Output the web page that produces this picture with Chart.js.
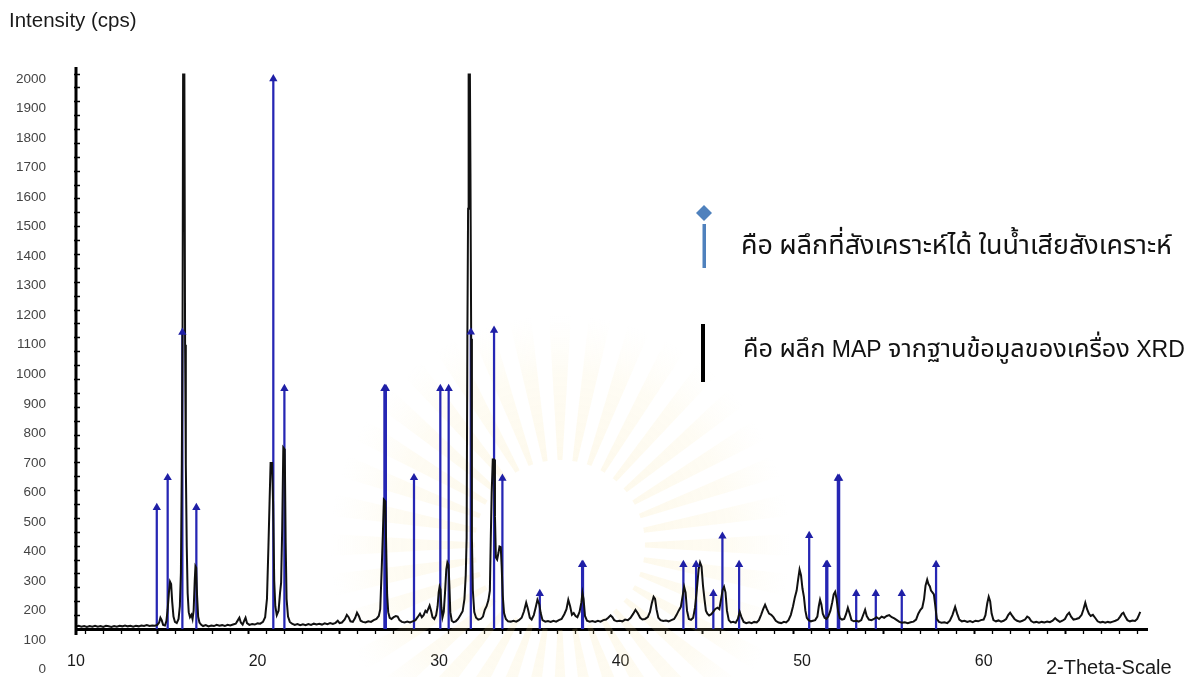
<!DOCTYPE html>
<html lang="th">
<head>
<meta charset="utf-8">
<title>XRD pattern</title>
<script src="https://cdn.jsdelivr.net/npm/chart.js@4.4.1/dist/chart.umd.min.js"></script>
<style>
  html, body { margin: 0; padding: 0; background: #ffffff; }
  #wrap { width: 1188px; height: 677px; position: relative; }
</style>
</head>
<body>
<div id="wrap"><canvas id="xrd" width="1188" height="677"></canvas></div>
<script>
// ---- data -------------------------------------------------------------
// Measured scan: [2-theta (deg), intensity (cps)]
const scan = [
  [10.0,146],[10.15,149],[10.3,146],[10.45,148],[10.6,145],[10.75,148],[10.9,146],[11.05,149],[11.2,146],[11.35,148],
  [11.5,145],[11.65,149],[11.8,147],[11.95,145],[12.1,148],[12.25,146],[12.4,149],[12.55,147],[12.7,150],[12.85,147],
  [13.0,149],[13.15,146],[13.3,149],[13.45,147],[13.6,150],[13.75,148],[13.9,151],[14.05,148],[14.2,150],[14.35,149],
  [14.48,152],[14.58,160],[14.65,176],[14.72,168],[14.8,152],[14.9,150],[14.98,165],[15.05,205],[15.12,262],[15.18,298],
  [15.24,290],[15.3,230],[15.37,180],[15.45,162],[15.55,158],[15.65,172],[15.72,215],[15.78,330],[15.83,700],[15.87,1150],
  [15.9,2015],[15.97,2015],[16.01,1100],[16.05,694],[16.1,420],[16.15,260],[16.21,195],[16.28,178],[16.36,186],[16.42,172],
  [16.48,200],[16.54,300],[16.58,350],[16.62,345],[16.67,250],[16.73,180],[16.8,160],[16.9,152],
  [17.0,148],[17.15,151],[17.3,147],[17.45,150],[17.6,148],[17.75,152],[17.9,149],[18.05,151],[18.2,148],[18.35,152],
  [18.5,150],[18.65,153],[18.8,156],[18.92,168],[19.0,176],[19.08,160],[19.18,153],[19.28,168],[19.34,176],[19.42,158],
  [19.55,152],[19.7,155],[19.85,153],[20.0,157],[20.15,156],[20.3,162],[20.42,178],[20.52,240],[20.6,415],[20.66,560],
  [20.72,700],[20.8,700],[20.86,560],[20.92,300],[20.98,215],[21.06,185],[21.16,200],[21.24,260],[21.3,295],[21.36,480],
  [21.42,752],[21.5,745],[21.55,430],[21.6,240],[21.68,180],[21.78,162],[21.9,156],
  [22.05,152],[22.2,155],[22.35,151],[22.5,154],[22.65,151],[22.8,155],[22.95,152],[23.1,156],[23.25,153],[23.4,156],
  [23.55,153],[23.7,157],[23.85,154],[24.0,158],[24.15,155],[24.3,159],[24.42,166],[24.52,158],[24.65,160],[24.8,170],
  [24.92,186],[25.02,178],[25.12,164],[25.25,162],[25.38,176],[25.48,193],[25.58,182],[25.68,166],[25.8,162],[25.95,160],
  [26.1,164],[26.25,162],[26.4,168],[26.55,172],
  [26.68,182],[26.76,205],[26.84,340],[26.9,450],[26.96,576],[27.04,570],[27.09,410],[27.14,255],[27.2,195],[27.28,176],
  [27.38,172],[27.5,178],[27.62,182],[27.72,180],[27.82,168],[27.95,162],[28.1,160],[28.25,163],[28.4,160],[28.55,164],
  [28.7,168],[28.82,178],[28.95,190],[29.05,178],[29.15,185],[29.25,200],[29.33,195],[29.4,205],[29.48,217],[29.56,200],
  [29.64,178],[29.74,172],[29.84,185],
  [29.92,215],[29.98,262],[30.03,281],[30.08,272],[30.13,210],[30.19,178],[30.26,196],[30.33,262],[30.4,340],[30.46,363],
  [30.52,355],[30.57,285],[30.62,195],[30.7,166],[30.8,161],[30.92,164],[31.05,172],[31.18,185],[31.3,198],[31.4,240],
  [31.47,320],[31.52,447],[31.56,1120],[31.6,1560],[31.63,2015],[31.7,2015],[31.73,1680],[31.77,1120],[31.81,447],[31.86,270],
  [31.94,195],[32.04,176],[32.16,170],[32.3,172],[32.42,180],[32.52,203],[32.62,215],[32.72,236],[32.8,268],[32.85,447],
  [32.9,600],[32.96,712],[33.03,712],[33.08,520],[33.13,380],[33.2,373],[33.27,395],[33.33,417],[33.4,415],[33.45,350],
  [33.51,250],[33.58,192],[33.68,172],[33.8,164],[33.95,163],
  [34.1,166],[34.25,163],[34.4,168],[34.55,176],[34.68,198],[34.8,227],[34.9,205],[35.0,176],[35.1,170],[35.22,185],
  [35.32,210],[35.42,237],[35.52,222],[35.6,192],[35.7,168],[35.85,163],[36.0,165],[36.15,162],[36.3,166],[36.45,163],
  [36.6,168],[36.75,172],[36.9,188],[37.02,205],[37.12,237],[37.22,215],[37.32,186],[37.42,192],[37.52,182],[37.62,178],
  [37.74,196],[37.84,228],[37.9,260],[37.96,240],[38.04,182],[38.15,166],[38.3,163],[38.45,165],
  [38.6,162],[38.75,166],[38.9,163],[39.05,168],[39.2,170],[39.32,176],[39.45,184],[39.55,178],[39.65,168],[39.8,164],
  [39.95,166],[40.1,164],[40.25,170],[40.4,168],[40.55,176],[40.7,190],[40.82,203],[40.94,192],[41.08,176],[41.2,170],
  [41.35,172],[41.5,178],[41.62,196],[41.72,225],[41.82,247],[41.9,240],[41.98,205],[42.08,176],[42.2,168],[42.35,165],
  [42.5,167],[42.65,164],[42.8,168],[42.95,172],[43.08,185],[43.2,200],[43.32,213],[43.42,250],[43.5,281],[43.58,262],
  [43.66,200],[43.76,172],[43.88,169],[44.0,176],[44.1,210],[44.2,270],[44.3,340],[44.38,363],[44.46,350],[44.54,285],
  [44.62,240],[44.7,200],
  [44.78,190],[44.88,184],[45.0,188],[45.1,196],[45.22,206],[45.34,210],[45.44,205],[45.54,240],[45.62,270],[45.7,281],
  [45.78,262],[45.86,200],[45.96,168],[46.08,160],[46.2,162],[46.34,159],[46.46,172],[46.56,196],[46.66,178],[46.78,162],
  [46.92,158],[47.08,161],[47.22,158],[47.36,162],[47.5,160],[47.62,168],[47.74,186],[47.86,206],[47.96,220],[48.06,205],
  [48.18,190],[48.3,186],[48.42,178],[48.55,166],[48.7,160],[48.85,158],[49.0,162],[49.12,160],[49.25,168],[49.38,186],
  [49.5,215],[49.6,245],[49.7,268],[49.78,305],[49.86,339],[49.94,320],[50.02,275],[50.1,247],[50.18,200],[50.26,176],
  [50.36,168],[50.48,164],
  [50.6,166],[50.72,168],[50.84,180],[50.92,215],[50.99,237],[51.06,222],[51.14,190],[51.24,176],[51.34,172],[51.44,180],
  [51.56,200],[51.66,228],[51.74,255],[51.82,264],[51.9,240],[51.98,200],[52.08,175],[52.2,170],[52.32,172],[52.42,188],
  [52.52,210],[52.62,190],[52.72,168],[52.85,164],[53.0,166],[53.12,163],[53.26,168],[53.38,188],[53.47,203],[53.56,182],
  [53.68,170],[53.82,168],[53.96,172],[54.1,178],[54.24,172],[54.38,180],[54.52,176],[54.66,182],[54.8,185],[54.94,178],
  [55.08,174],[55.22,168],[55.36,162],[55.5,159],[55.66,161],[55.82,158],[55.98,161],[56.14,163],[56.28,170],[56.4,190],
  [56.52,203],[56.62,210],[56.72,240],[56.8,285],[56.89,305],[56.96,290],[57.04,282],[57.1,268],[57.18,262],[57.26,255],
  [57.34,215],[57.42,172],[57.54,162],[57.68,159],[57.84,161],[58.0,158],
  [58.14,166],[58.28,185],[58.43,213],[58.54,190],[58.66,170],[58.8,164],[58.95,166],[59.1,162],[59.25,165],[59.4,161],
  [59.55,166],[59.7,164],[59.85,168],[60.0,170],[60.1,185],[60.2,225],[60.28,247],[60.36,232],[60.44,190],[60.54,168],
  [60.68,164],[60.82,167],[60.96,163],[61.1,166],[61.24,172],[61.36,186],[61.46,193],[61.56,184],[61.7,172],[61.84,166],
  [62.0,163],[62.14,166],[62.28,170],[62.4,180],[62.5,176],[62.62,165],[62.76,160],[62.9,162],[63.05,159],[63.2,162],
  [63.35,160],[63.5,163],[63.65,161],[63.8,166],[63.94,175],[64.06,168],[64.2,162],[64.34,166],[64.48,172],[64.6,186],
  [64.71,193],[64.82,180],[64.95,170],[65.1,172],[65.25,175],[65.4,186],[65.5,205],[65.6,227],[65.7,205],[65.8,190],
  [65.9,182],[66.02,186],[66.14,176],[66.28,164],[66.42,160],[66.56,162],[66.7,159],[66.84,162],[66.98,160],[67.12,163],
  [67.26,166],[67.4,170],[67.52,180],[67.62,190],[67.7,193],[67.8,180],[67.92,168],[68.06,164],[68.2,167],[68.34,165],
  [68.46,172],[68.56,186],[68.63,196]
];

// Reflections found for the synthesized crystals (stick positions and heights)
const peakAngles = [14.45, 15.05, 15.86, 16.63, 20.87, 21.48, 26.99, 27.07, 28.62, 30.07,
                    30.53, 31.75, 33.03, 33.49, 35.55, 37.88, 37.93, 43.46, 44.16, 45.11,
                    45.61, 46.53, 50.39, 51.33, 51.39, 51.97, 52.04, 52.98, 54.06, 55.49, 57.38];
const peakCounts = [549, 650, 1142, 549, 2000, 952, 952, 952, 650, 952,
                    952, 1143, 1149, 648, 258, 356, 356, 356, 356, 258,
                    452, 356, 454, 356, 356, 648, 648, 258, 258, 258, 356];

// Axis settings
const yTickLabels = [0,100,200,300,400,500,600,700,800,900,1000,1100,1200,1300,1400,1500,1600,1700,1800,1900,2000];
const xLabelEvery = 10;
const axisBase = 138;          // intensity at which the 2-theta axis sits
const yMax = 2040;
const xMin = 10, xMax = 69;

const legendItems = [
  'คือ ผลึกที่สังเคราะห์ได้ ในน้ำเสียสังเคราะห์',
  'คือ ผลึก MAP จากฐานข้อมูลของเครื่อง XRD'
];
const yTitle = 'Intensity (cps)';
const xTitle = '2-Theta-Scale';

// ---- drawing ------------------------------------------------------------
const latin = '"Liberation Sans", Arial, Helvetica, sans-serif';
const thai = '"Noto Sans Thai", "Noto Sans Thai UI", Loma, Garuda, "Tlwg Typo", Waree, Norasi, "DejaVu Sans", sans-serif';

function splitRuns(text) {
  return (text.match(/[\u0E00-\u0E7F]+|[^\u0E00-\u0E7F]+/g) || [])
    .map(r => ({ text: r, thai: /[\u0E00-\u0E7F]/.test(r) }));
}
function mixedWidth(ctx, runs, thaiSize, latinSize) {
  let w = 0;
  for (const r of runs) {
    ctx.font = r.thai ? thaiSize + 'px ' + thai : latinSize + 'px ' + latin;
    w += ctx.measureText(r.text).width;
  }
  return w;
}
// Draws a mixed Thai/Latin line: Thai runs in a Thai face sized so the line spans `width`,
// the Latin runs in Liberation Sans at a fixed size
function drawMixed(ctx, text, x, y, width, latinSize) {
  const runs = splitRuns(text);
  let lo = 12, hi = 40;
  for (let k = 0; k < 24; k++) {
    const mid = (lo + hi) / 2;
    if (mixedWidth(ctx, runs, mid, latinSize) > width) hi = mid; else lo = mid;
  }
  const thaiSize = Math.min(27, lo);
  let cx = x;
  for (const r of runs) {
    ctx.font = r.thai ? thaiSize + 'px ' + thai : latinSize + 'px ' + latin;
    ctx.fillText(r.text, cx, y);
    cx += ctx.measureText(r.text).width;
  }
}

const decor = {
  id: 'decor',
  beforeDatasetsDraw(chart) {
    // faint sunburst emblem in the background
    const ctx = chart.ctx;
    const cx = 560, cy = 545, r0 = 85, r1 = 230, rays = 36;
    ctx.save();
    const g = ctx.createRadialGradient(cx, cy, r0, cx, cy, r1);
    g.addColorStop(0, 'rgba(246, 220, 140, 0.16)');
    g.addColorStop(0.6, 'rgba(248, 228, 160, 0.12)');
    g.addColorStop(1, 'rgba(250, 238, 190, 0.0)');
    ctx.fillStyle = g;
    for (let i = 0; i < rays; i++) {
      const a = (i / rays) * Math.PI * 2;
      const w = Math.PI / rays * 0.55;
      ctx.beginPath();
      ctx.moveTo(cx + Math.cos(a - w * 0.6) * r0, cy + Math.sin(a - w * 0.6) * r0);
      ctx.lineTo(cx + Math.cos(a - w) * r1, cy + Math.sin(a - w) * r1);
      ctx.lineTo(cx + Math.cos(a + w) * r1, cy + Math.sin(a + w) * r1);
      ctx.lineTo(cx + Math.cos(a + w * 0.6) * r0, cy + Math.sin(a + w * 0.6) * r0);
      ctx.closePath();
      ctx.fill();
    }
    ctx.restore();
  },
  afterDraw(chart) {
    const ctx = chart.ctx;
    const y = chart.scales.y;
    const area = chart.chartArea;
    const xa = area.left;
    ctx.save();
    // intensity axis line with small ticks
    ctx.strokeStyle = '#000';
    ctx.lineWidth = 3;
    ctx.beginPath();
    ctx.moveTo(xa, y.getPixelForValue(axisBase - 20));
    ctx.lineTo(xa, y.getPixelForValue(yMax));
    ctx.stroke();
    ctx.lineWidth = 1.4;
    ctx.beginPath();
    for (let v = axisBase + 47; v <= yMax - 20; v += 47) {
      const py = Math.round(y.getPixelForValue(v)) + 0.5;
      ctx.moveTo(xa - 2, py);
      ctx.lineTo(xa + 4, py);
    }
    ctx.stroke();

    // axis titles
    ctx.fillStyle = '#1a1a1a';
    ctx.font = '20.5px ' + latin;
    ctx.textBaseline = 'alphabetic';
    ctx.textAlign = 'left';
    ctx.fillText(yTitle, 9, 27);
    ctx.font = '20px ' + latin;
    ctx.fillText(xTitle, 1046, 674);

    // legend
    // diamond-topped blue stick
    ctx.fillStyle = '#4f81bd';
    ctx.beginPath();
    ctx.moveTo(704, 205); ctx.lineTo(712, 213); ctx.lineTo(704, 221); ctx.lineTo(696, 213);
    ctx.closePath(); ctx.fill();
    ctx.fillRect(702.5, 224, 3.5, 44);
    // black stick
    ctx.fillStyle = '#000';
    ctx.fillRect(701, 324, 4, 58);

    ctx.fillStyle = '#111';
    drawMixed(ctx, legendItems[0], 741, 254, 431, 23);
    drawMixed(ctx, legendItems[1], 743, 357, 442, 23);
    ctx.restore();
  }
};

const scanPoints = scan.map(p => ({ x: p[0], y: p[1] }));
const stickBars = peakAngles.map((a, i) => ({ x: a, y: [axisBase, peakCounts[i]] }));
const stickTops = peakAngles.map((a, i) => ({ x: a, y: peakCounts[i] }));

new Chart(document.getElementById('xrd'), {
  type: 'line',
  data: {
    datasets: [
      {
        type: 'scatter',
        label: 'markers',
        data: stickTops,
        pointStyle: 'triangle',
        pointRadius: 4.8,
        pointBackgroundColor: '#1f1fa6',
        pointBorderWidth: 0,
        order: 0
      },
      {
        type: 'line',
        label: 'scan',
        data: scanPoints,
        borderColor: '#111111',
        borderWidth: 2,
        pointRadius: 0,
        tension: 0,
        fill: false,
        order: 1
      },
      {
        type: 'bar',
        label: 'sticks',
        data: stickBars,
        backgroundColor: '#2626b4',
        borderWidth: 0,
        barThickness: 1.6,
        grouped: false,
        order: 2
      }
    ]
  },
  options: {
    responsive: false,
    animation: false,
    events: [],
    layout: { padding: { left: 0, right: 41, top: 67, bottom: 0 } },
    plugins: {
      legend: { display: false },
      tooltip: { enabled: false },
      title: { display: false }
    },
    scales: {
      x: {
        type: 'linear',
        min: xMin,
        max: xMax,
        offset: false,
        position: 'bottom',
        afterFit: s => { s.height = 48; },
        border: { display: true, color: '#000', width: 3 },
        grid: {
          display: true,
          drawOnChartArea: false,
          drawTicks: true,
          tickLength: 5,
          tickColor: '#000',
          tickWidth: c => (c.tick && c.tick.value % 5 === 0) ? 2 : 1.3
        },
        ticks: {
          stepSize: 1,
          autoSkip: false,
          maxRotation: 0,
          padding: 18,
          color: '#1a1a1a',
          font: { family: latin, size: 16 },
          callback: v => (v % xLabelEvery === 0 ? String(v) : '')
        }
      },
      y: {
        type: 'linear',
        position: 'left',
        min: axisBase,
        max: yMax,
        // the intensity labels run on down to 0 below the 2-theta axis
        afterBuildTicks: s => { s.ticks = yTickLabels.map(v => ({ value: v })); },
        afterFit: s => { s.width = 76; },
        grid: { display: false, drawTicks: false },
        border: { display: false },
        ticks: {
          autoSkip: false,
          padding: 30,
          color: '#444444',
          font: { family: latin, size: 13.5 },
          callback: v => String(v)
        }
      }
    }
  },
  plugins: [decor]
});
</script>
</body>
</html>
